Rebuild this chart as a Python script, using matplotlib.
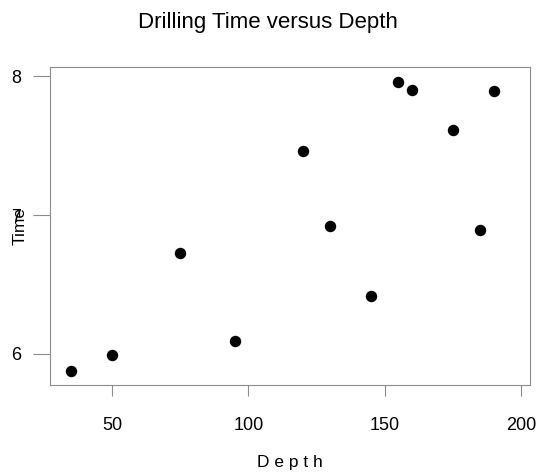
import matplotlib
matplotlib.use('Agg')
import matplotlib.pyplot as plt

depth = [35, 50, 75, 95, 120, 130, 145, 155, 160, 175, 185, 190]
time = [5.88, 5.99, 6.73, 6.09, 7.46, 6.92, 6.42, 7.96, 7.90, 7.61, 6.89, 7.89]
xticks = [50, 100, 150, 200]
yticks = [6, 7, 8]

plt.rcParams['font.family'] = ['Liberation Sans', 'DejaVu Sans']
fig = plt.figure(figsize=(5.36, 4.74), dpi=100)
ax = fig.add_axes([0.0933, 0.1878, 0.8955, 0.6708])

ax.scatter(depth, time, s=52, color='black', zorder=3)
ax.set_xlim(27.3, 203.3)
ax.set_ylim(5.777, 8.065)

gray = '#8c8c8c'
for s in ax.spines.values():
    s.set_color(gray)
ax.set_xticks(xticks)
ax.set_yticks(yticks)
ax.tick_params(axis='x', colors=gray, length=8, labelsize=13, pad=15, labelcolor='black')
ax.tick_params(axis='y', colors=gray, length=12, labelsize=13, pad=9, labelcolor='black')

ax.set_xlabel('D e p t h', fontsize=12.5, labelpad=15)
ax.set_ylabel('Time', fontsize=12.5)
ax.yaxis.set_label_coords(-0.047, 0.5)
fig.suptitle('Drilling Time versus Depth', fontsize=16, y=0.975)

fig.savefig('out.png', dpi=100)
